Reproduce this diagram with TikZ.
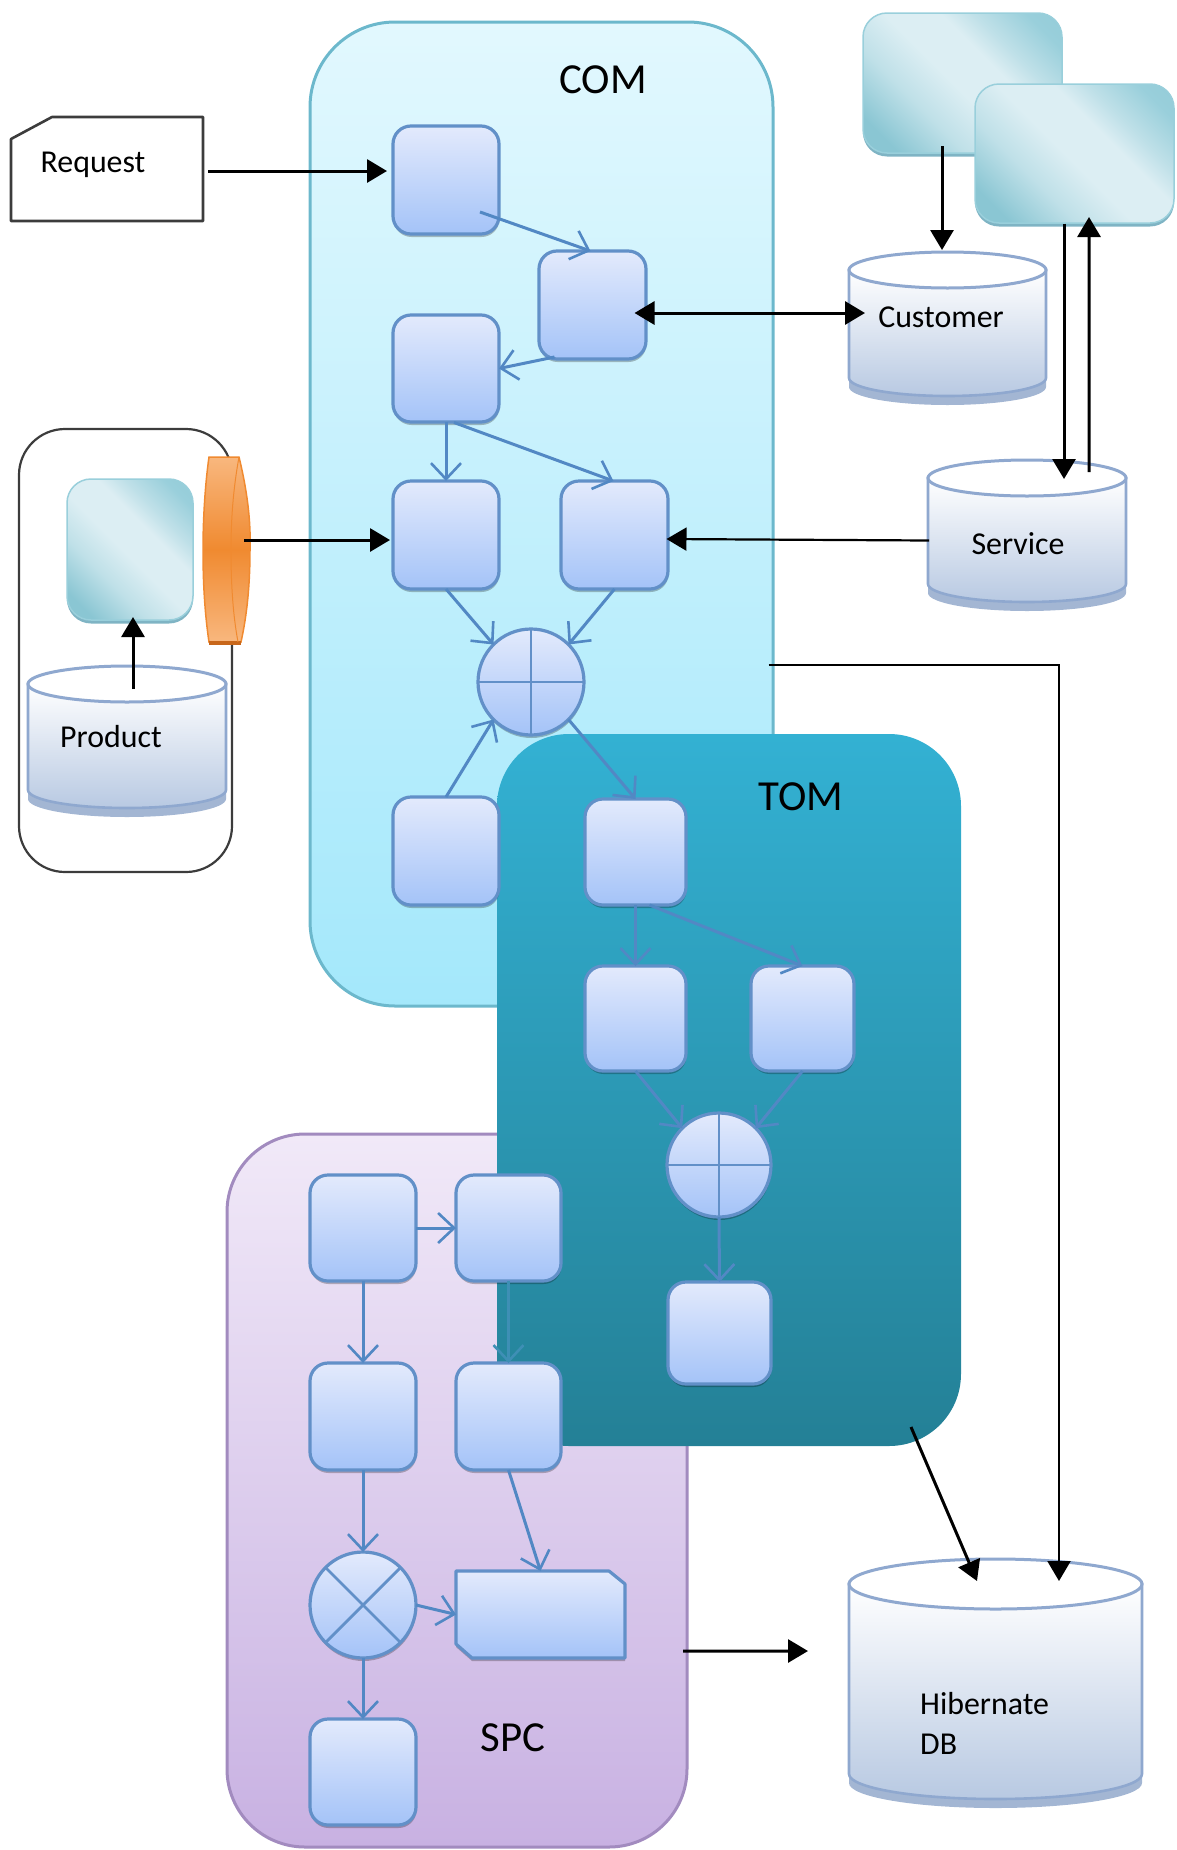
\documentclass[tikz,border=0pt]{standalone}
\usepackage{fontspec}
\setmainfont{Carlito}
\usetikzlibrary{arrows.meta,calc,shadows}
\definecolor{comtop}{HTML}{E2F8FE}\definecolor{combot}{HTML}{A4E8FB}\definecolor{comedge}{HTML}{6CB8CC}
\definecolor{tomtop}{HTML}{33B1D3}\definecolor{tombot}{HTML}{248096}
\definecolor{spctop}{HTML}{F1E9F8}\definecolor{spcbot}{HTML}{C8B1E2}\definecolor{spcedge}{HTML}{A28BBF}
\definecolor{bluetop}{HTML}{E3EAFC}\definecolor{bluebot}{HTML}{A4C3F8}\definecolor{blueedge}{HTML}{6290C8}\definecolor{flowblue}{HTML}{5288C4}\definecolor{flowteal}{HTML}{3E8FB5}
\definecolor{tealA}{HTML}{8AC6D3}\definecolor{tealB}{HTML}{BFE0E8}\definecolor{tealC}{HTML}{DCEEF3}\definecolor{tealD}{HTML}{99CFDB}\definecolor{tealrim}{HTML}{7FB4C4}
\definecolor{cylbot}{HTML}{B8C9E2}\definecolor{cylrim}{HTML}{A3B6D3}\definecolor{cyledge}{HTML}{8FA8CF}
\definecolor{orA}{HTML}{F8B77E}\definecolor{orB}{HTML}{F08A30}\definecolor{orC}{HTML}{C8671B}
\definecolor{inkline}{HTML}{3C3C3C}
\pgfdeclarehorizontalshading{tealdiag}{100bp}{color(0bp)=(tealA); color(22bp)=(tealA); color(36bp)=(tealB); color(48bp)=(tealC); color(60bp)=(tealC); color(67bp)=(tealB); color(78bp)=(tealD); color(100bp)=(tealA)}
\tikzset{
  region/.style={rectangle,inner sep=0pt,outer sep=0pt},
  comregion/.style={region,rounded corners=85bp,top color=comtop,bottom color=combot,draw=comedge,line width=3bp},
  tomregion/.style={region,rounded corners=72bp,top color=tomtop,bottom color=tombot},
  spcregion/.style={region,rounded corners=78bp,top color=spctop,bottom color=spcbot,draw=spcedge,line width=3bp},
  framebox/.style={region,rounded corners=46bp,draw=inkline,line width=2.2bp,fill=white},
  softshadow/.style={general shadow={shadow xshift=0.5bp,shadow yshift=-3bp,fill=black,opacity=.25}},
  bluebox/.style={region,rounded corners=18bp,top color=bluetop,bottom color=bluebot,draw=blueedge,line width=3.2bp,softshadow},
  bluedoc/.style={top color=bluetop,bottom color=bluebot,draw=blueedge,line width=3.2bp},
  tealbox/.style={region,rounded corners=24bp,shading=tealdiag,shading angle=45,general shadow={shadow yshift=-3.5bp,fill=tealrim},draw=tealD,line width=1.5bp},
  sumcircle/.style={circle,inner sep=0pt,outer sep=0pt,minimum size=#1,top color=bluetop,bottom color=bluebot,draw=blueedge,line width=3.2bp,softshadow},
  pluslines/.style={path picture={\draw[blueedge,line width=2.8bp] (path picture bounding box.north)--(path picture bounding box.south) (path picture bounding box.west)--(path picture bounding box.east);}},
  crosslines/.style={path picture={\draw[blueedge,line width=2.8bp] (path picture bounding box.north west)--(path picture bounding box.south east) (path picture bounding box.north east)--(path picture bounding box.south west);}},
  blueflow/.style={draw=flowblue,line width=3bp,-{Straight Barb[length=16bp,width=30bp,line width=2.6bp]}},
  blackflow/.style={draw=black,line width=3bp,-{Triangle[length=20bp,width=23bp]}},
  thinflow/.style={draw=black,line width=2.2bp,-{Triangle[length=20bp,width=23bp]}},
  blackflowboth/.style={draw=black,line width=3bp,{Triangle[length=20bp,width=23bp]}-{Triangle[length=20bp,width=23bp]}},
  smalltxt/.style={inner sep=0pt,font=\fontsize{32}{40}\selectfont,text=black},
  bigtxt/.style={inner sep=0pt,font=\fontsize{43}{50}\selectfont,text=black},
}
% node placed by its pixel extents: style, name, x1, y1, x2, y2
\newcommand\placed[6]{\node[#1,minimum width={(#5-#3)*1bp},minimum height={(#6-#4)*1bp}] (#2) at ({(#3+#5)/2},{(#4+#6)/2}) {};}
% database drum: name, x1, y1, x2, y2, vertical radius of its end
\newcommand\drum[6]{%
  \pgfmathsetmacro\drumcx{(#2+#4)/2}%
  \pgfmathsetmacro\drumrx{(#4-#2)/2}%
  \pgfmathsetmacro\drumtop{#3+#6}%
  \pgfmathsetmacro\drumlow{#5-#6}%
  \pgfmathsetmacro\drumbody{#5-#6-9}%
  \fill[cylrim] (#2,\drumtop) -- (#2,\drumlow) arc[start angle=180,end angle=360,x radius=\drumrx bp,y radius=#6 bp] -- (#4,\drumtop) -- cycle;
  \path[top color=white,bottom color=cylbot,draw=cyledge,line width=2.6bp] (#2,\drumtop) -- (#2,\drumbody) arc[start angle=180,end angle=360,x radius=\drumrx bp,y radius=#6 bp] -- (#4,\drumtop) -- cycle;
  \path[fill=white,draw=cyledge,line width=3bp] (\drumcx,\drumtop) ellipse[x radius=\drumrx bp,y radius=#6 bp];
  \node[region,minimum width={(#4-#2)*1bp},minimum height={(#5-#3)*1bp}] (#1) at ({(#2+#4)/2},{(#3+#5)/2}) {};
}
\begin{document}
\begin{tikzpicture}[x=1bp,y=-1bp]
\useasboundingbox (0,0) rectangle (1176,1850);
% regions
\placed{comregion}{com}{310}{22}{773}{1006}
\placed{spcregion}{spc}{227}{1134}{687}{1847}
\placed{tomregion}{tom}{497}{734}{961}{1446}
% outside left group
\placed{framebox}{prodgroup}{19}{429}{232}{872}
\placed{tealbox}{pteal}{67}{479}{193}{620}
\drum{prod}{28}{666}{226}{817}{18}
\path[top color=orA,bottom color=orA,middle color=orB,draw=orB,line width=1.5bp] (209,457) -- (239,457) .. controls (247,490) and (251,520) .. (250,550) .. controls (250,585) and (247,615) .. (241,642) -- (209,642) .. controls (205,615) and (203,585) .. (203,550) .. controls (203,520) and (205,485) .. (209,457) -- cycle;
\draw[orC,line width=4bp] (209,643) -- (241,643);
\draw[orB,line width=1bp] (239,457) .. controls (233,490) and (231,520) .. (231,550) .. controls (231,585) and (233,615) .. (238,642);
\node[region,minimum width=47bp,minimum height=188bp] (orange) at (226.5,550) {};
% right side
\placed{tealbox}{top1}{863}{13}{1062}{153}
\placed{tealbox}{top2}{975}{84}{1174}{223}
\drum{cust}{849}{252}{1046}{405}{18}
\drum{svc}{928}{460}{1126}{611}{18}
\drum{db}{849}{1559}{1142}{1808}{25}
% request
\path[draw=inkline,fill=white,line width=2.6bp,line join=round] (52,117) -- (203,117) -- (203,221) -- (11,221) -- (11,139) -- cycle;
\node[region,minimum width=192bp,minimum height=104bp] (request) at (107,169) {};
% COM
\placed{bluebox}{b1}{393}{126}{499}{234}
\placed{bluebox}{b2}{539}{251}{646}{359}
\placed{bluebox}{b3}{393}{315}{499}{422}
\placed{bluebox}{b4}{393}{481}{499}{589}
\placed{bluebox}{b5}{561}{481}{668}{589}
\node[sumcircle=106bp,pluslines] (cir1) at (531,682) {};
\placed{bluebox}{b6}{393}{797}{499}{905}
% TOM
\placed{bluebox}{t1}{585}{799}{686}{905}
\placed{bluebox}{t2}{585}{966}{686}{1071}
\placed{bluebox}{t3}{751}{966}{854}{1071}
\node[sumcircle=104bp,pluslines] (cir2) at (719,1165) {};
\placed{bluebox}{t4}{668}{1282}{771}{1384}
% SPC
\placed{bluebox}{s1}{310}{1175}{416}{1281}
\placed{bluebox}{s2}{456}{1175}{561}{1281}
\placed{bluebox}{s3}{310}{1363}{416}{1470}
\placed{bluebox}{s4}{456}{1363}{561}{1470}
\node[sumcircle=106bp,crosslines] (cir3) at (363,1605) {};
\fill[black,opacity=.25] (456,1574) -- (609,1574) -- (625,1587) -- (625,1661) -- (472,1661) -- (456,1647) -- cycle;
\path[bluedoc,line join=round] (456,1571) -- (609,1571) -- (625,1584) -- (625,1658) -- (472,1658) -- (456,1644) -- cycle;
\node[region,minimum width=169bp,minimum height=87bp] (s5) at (540.5,1614.5) {};
\placed{bluebox}{s6}{310}{1719}{416}{1825}
% blue connectors
\draw[blueflow] ($(b1)+(34,32)$) -- ($(b2)+(-2,-54)$);
\draw[blueflow] ($(b2)+(-38,52)$) -- (b3.east);
\draw[blueflow] (b3.south) -- (b4.north);
\draw[blueflow] ($(b3)+(8,54)$) -- ($(b5)+(-1,-54)$);
\draw[blueflow] (b4.south) -- (cir1.135);
\draw[blueflow] (b5.south) -- (cir1.45);
\draw[blueflow] (b6.north) -- (cir1.225);
\draw[blueflow] (cir1.-45) -- (t1.north);
\draw[blueflow] (t1.south) -- (t2.north);
\draw[blueflow] ($(t1)+(14,53)$) -- (t3.north);
\draw[blueflow] (t2.south) -- (cir2.135);
\draw[blueflow] (t3.south) -- (cir2.45);
\draw[blueflow] (cir2.south) -- (t4.north);
\draw[blueflow] (s1.east) -- (s2.west);
\draw[blueflow] (s1.south) -- (s3.north);
\draw[blueflow] (s3.south) -- (cir3.north);
\draw[blueflow,draw=flowteal] (s2.south) -- (s4.north);
\draw[blueflow] (s4.south) -- (s5.north);
\draw[blueflow] (cir3.east) -- (s5.west);
\draw[blueflow] (cir3.south) -- (s6.north);
% black connectors
\draw[blackflow] ($(request.east)+(5,2)$) -- ($(b1)+(-59,-9)$);
\draw[blackflow] ($(top1)+(-20.5,63)$) -- ($(cust.north)+(-5.5,-2)$);
\draw[blackflow] ($(top2)+(-10.5,70)$) -- ($(svc)+(37,-56.5)$);
\draw[blackflow] ($(svc)+(62,-63.5)$) -- ($(top2)+(14.5,63.5)$);
\draw[blackflowboth] ($(b2)+(42,8)$) -- ($(cust)+(-82.5,-15.5)$);
\draw[thinflow] ($(svc)+(-98,5)$) -- ($(b5)+(52,4)$);
\draw[blackflow] ($(prod)+(6,-52.5)$) -- ($(pteal)+(3,67.5)$);
\draw[blackflow] ($(orange)+(17.5,-10)$) -- ($(b4)+(-56,5)$);
\draw[thinflow] ($(com)+(227,151)$) -| ($(db)+(63.5,-102.5)$);
\draw[blackflow] ($(tom)+(182,337)$) -- ($(db)+(-18.5,-102.5)$);
\draw[blackflow] ($(spc)+(226,160.5)$) -- ($(db)+(-187.5,-32.5)$);
% labels
\node[bigtxt] (comlabel) at (603,80) {COM};
\node[bigtxt] (tomlabel) at (801,797) {TOM};
\node[bigtxt] (spclabel) at (513,1738) {SPC};
\node[smalltxt] (reqlabel) at (93,165) {Request};
\node[smalltxt] (custlabel) at (941,317) {Customer};
\node[smalltxt] (svclabel) at (1018,544) {Service};
\node[smalltxt] (prodlabel) at (111,737) {Product};
\node[smalltxt,anchor=west,align=left] (dblabel) at (920,1723) {Hibernate\\DB};
\end{tikzpicture}
\end{document}
